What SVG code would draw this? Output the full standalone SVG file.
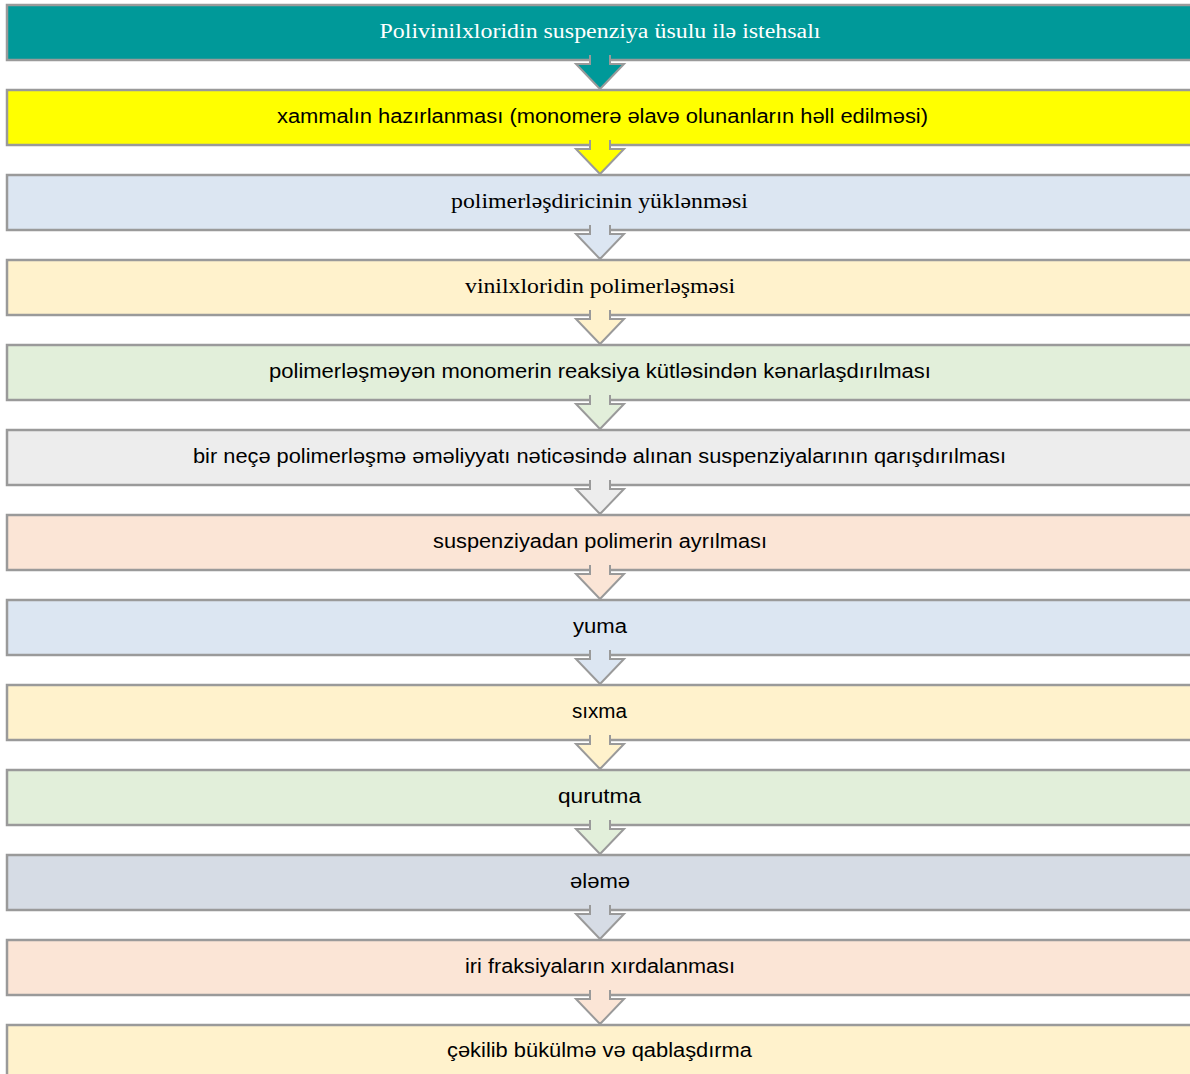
<svg xmlns="http://www.w3.org/2000/svg" width="1190" height="1074" viewBox="0 0 1190 1074">
<style>
.b{stroke:#9a9a9a;stroke-width:2.5}
.a{stroke:#9a9a9a;stroke-width:2;stroke-linejoin:miter}
.s{font-family:"Liberation Sans",Arial,sans-serif;font-size:19.5px;fill:#000;text-anchor:middle}
.r{font-family:"Liberation Serif","Times New Roman",serif;font-size:20px;fill:#000;text-anchor:middle}
.w{fill:#fff}
.c1{fill:#009999}.c2{fill:#ffff00}.c3{fill:#dce6f2}.c4{fill:#fff2cc}.c5{fill:#e2efda}.c6{fill:#ededed}.c7{fill:#fbe5d6}.c8{fill:#d6dce5}
</style>
<rect width="1190" height="1074" fill="#fff"/>
<g id="nodes">
<g id="n1"><rect class="b c1" x="7" y="5" width="1200" height="55"/><text class="r w" x="600" y="38" textLength="441" lengthAdjust="spacingAndGlyphs">Polivinilxloridin suspenziya üsulu ilə istehsalı</text></g>
<g id="n2"><rect class="b c2" x="7" y="90" width="1200" height="55"/><text class="s" x="602.5" y="123" textLength="651" lengthAdjust="spacingAndGlyphs">xammalın hazırlanması (monomerə əlavə olunanların həll edilməsi)</text></g>
<g id="n3"><rect class="b c3" x="7" y="175" width="1200" height="55"/><text class="r" x="599.5" y="208" textLength="297" lengthAdjust="spacingAndGlyphs">polimerləşdiricinin yüklənməsi</text></g>
<g id="n4"><rect class="b c4" x="7" y="260" width="1200" height="55"/><text class="r" x="600" y="293" textLength="270" lengthAdjust="spacingAndGlyphs">vinilxloridin polimerləşməsi</text></g>
<g id="n5"><rect class="b c5" x="7" y="345" width="1200" height="55"/><text class="s" x="600" y="378" textLength="662" lengthAdjust="spacingAndGlyphs">polimerləşməyən monomerin reaksiya kütləsindən kənarlaşdırılması</text></g>
<g id="n6"><rect class="b c6" x="7" y="430" width="1200" height="55"/><text class="s" x="599.5" y="463" textLength="813" lengthAdjust="spacingAndGlyphs">bir neçə polimerləşmə əməliyyatı nəticəsində alınan suspenziyalarının qarışdırılması</text></g>
<g id="n7"><rect class="b c7" x="7" y="515" width="1200" height="55"/><text class="s" x="600" y="548" textLength="334" lengthAdjust="spacingAndGlyphs">suspenziyadan polimerin ayrılması</text></g>
<g id="n8"><rect class="b c3" x="7" y="600" width="1200" height="55"/><text class="s" x="600" y="633" textLength="54" lengthAdjust="spacingAndGlyphs">yuma</text></g>
<g id="n9"><rect class="b c4" x="7" y="685" width="1200" height="55"/><text class="s" x="599.5" y="718" textLength="55" lengthAdjust="spacingAndGlyphs">sıxma</text></g>
<g id="n10"><rect class="b c5" x="7" y="770" width="1200" height="55"/><text class="s" x="599.5" y="803" textLength="83" lengthAdjust="spacingAndGlyphs">qurutma</text></g>
<g id="n11"><rect class="b c8" x="7" y="855" width="1200" height="55"/><text class="s" x="600" y="888" textLength="60" lengthAdjust="spacingAndGlyphs">ələmə</text></g>
<g id="n12"><rect class="b c7" x="7" y="940" width="1200" height="55"/><text class="s" x="600" y="973" textLength="270" lengthAdjust="spacingAndGlyphs">iri fraksiyaların xırdalanması</text></g>
<g id="n13"><rect class="b c4" x="7" y="1025" width="1200" height="70"/><text class="s" x="599.5" y="1057" textLength="305" lengthAdjust="spacingAndGlyphs">çəkilib bükülmə və qablaşdırma</text></g>
</g>
<g id="connectors">
<path class="a c1" d="M590,55V64H576L600,89L624,64H610V55"/>
<path class="a c2" d="M590,140V149H576L600,174L624,149H610V140"/>
<path class="a c3" d="M590,225V234H576L600,259L624,234H610V225"/>
<path class="a c4" d="M590,310V319H576L600,344L624,319H610V310"/>
<path class="a c5" d="M590,395V404H576L600,429L624,404H610V395"/>
<path class="a c6" d="M590,480V489H576L600,514L624,489H610V480"/>
<path class="a c7" d="M590,565V574H576L600,599L624,574H610V565"/>
<path class="a c3" d="M590,650V659H576L600,684L624,659H610V650"/>
<path class="a c4" d="M590,735V744H576L600,769L624,744H610V735"/>
<path class="a c5" d="M590,820V829H576L600,854L624,829H610V820"/>
<path class="a c8" d="M590,905V914H576L600,939L624,914H610V905"/>
<path class="a c7" d="M590,990V999H576L600,1024L624,999H610V990"/>
</g>
</svg>
